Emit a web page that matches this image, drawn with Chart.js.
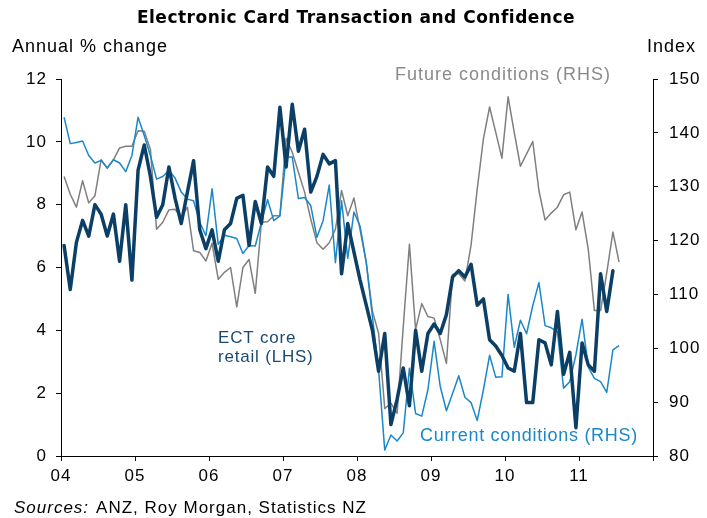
<!DOCTYPE html>
<html><head><meta charset="utf-8">
<script src="https://cdn.jsdelivr.net/npm/chart.js@4/dist/chart.umd.min.js"></script>
<style>html,body{margin:0;padding:0;background:#fff;}canvas{display:block}</style>
</head><body>
<canvas id="c" width="707" height="518"></canvas>
<script>
// Tick labels
const yearLabels = ['04','05','06','07','08','09','10','11',''];
const leftTicks = [0, 2, 4, 6, 8, 10, 12];
const rightTicks = [80, 90, 100, 110, 120, 130, 140, 150];

// Monthly categories, Jan 2004 .. Jul 2011
const categories = [];
for (let y = 2004; y <= 2011; y++) for (let m = 1; m <= 12; m++) {
  if (y === 2011 && m > 7) break;
  categories.push(y + '-' + String(m).padStart(2, '0'));
}

// ECT core retail, annual % change (LHS), Jan 2004 .. Jun 2011
const ectCoreRetail = [
  6.7, 5.3, 6.8, 7.5, 7.0, 8.0, 7.7, 7.0, 7.7, 6.2, 8.0, 5.6,
  9.1, 9.9, 8.9, 7.6, 8.0, 9.2, 8.2, 7.4, 8.4, 9.4, 7.2, 6.6,
  7.2, 6.2, 7.2, 7.4, 8.2, 8.3, 6.7, 8.1, 7.4, 9.2, 8.9, 11.1,
  9.2, 11.2, 9.7, 10.4, 8.4, 8.9, 9.6, 9.3, 9.4, 5.8, 7.4, 6.5,
  5.6, 4.8, 4.0, 2.7, 3.9, 1.0, 1.8, 2.8, 1.6, 4.0, 2.7, 3.9,
  4.2, 3.9, 4.5, 5.7, 5.9, 5.7, 6.1, 4.8, 5.0, 3.7, 3.5, 3.2,
  2.8, 2.7, 3.9, 1.7, 1.7, 3.7, 3.6, 2.9, 4.6, 2.6, 3.3, 0.9,
  3.6, 2.9, 2.7, 5.8, 4.6, 5.9
];

// Current conditions index (RHS)
const currentConditions = [
  142.9, 138.0, 138.2, 138.5, 135.8, 134.4, 134.9, 133.5, 135.0, 134.4, 132.8, 135.8,
  142.9, 139.5, 135.8, 131.4, 131.9, 133.0, 131.6, 129.0, 127.7, 127.4, 123.4, 120.9,
  129.6, 119.3, 121.0, 120.7, 120.4, 117.6, 119.1, 119.0, 123.4, 127.6, 123.7, 124.6,
  135.5, 135.5, 127.8, 128.0, 126.5, 120.6, 123.7, 130.3, 115.9, 127.4, 116.7, 125.3,
  122.7, 116.0, 105.9, 96.0, 81.1, 83.9, 82.8, 84.3, 96.3, 87.9, 87.4, 92.3,
  101.3, 92.9, 88.4, 91.6, 94.9, 90.9, 89.9, 86.6, 92.3, 98.7, 94.6, 94.7,
  110.0, 100.2, 105.2, 102.7, 107.9, 112.2, 104.2, 103.8, 103.1, 92.6, 93.8, 98.8,
  105.4, 96.5, 94.4, 93.8, 91.8, 99.7, 100.5
];

// Future conditions index (RHS)
const futureConditions = [
  131.9, 128.6, 126.2, 131.1, 127.0, 128.3, 135.0, 133.4, 135.0, 137.2, 137.5, 137.5,
  140.4, 140.3, 136.9, 122.1, 123.4, 125.7, 125.8, 124.3, 126.2, 118.1, 117.8, 116.2,
  119.5, 112.8, 114.1, 115.0, 107.7, 115.0, 116.5, 110.2, 123.4, 123.5, 124.6, 124.6,
  139.0, 136.4, 132.7, 129.0, 124.0, 119.6, 118.4, 119.6, 122.1, 129.3, 124.6, 127.9,
  122.0, 115.9, 106.9, 102.8, 88.8, 89.8, 87.9, 104.0, 119.3, 103.5, 108.3, 105.9,
  105.6, 101.6, 97.2, 113.7, 113.9, 112.5, 119.2, 129.6, 138.9, 144.8, 140.1, 135.3,
  146.7, 140.1, 133.8, 136.1, 138.4, 129.3, 123.8, 125.1, 126.2, 128.5, 129.0, 122.0,
  125.3, 118.4, 107.0, 107.0, 114.0, 121.6, 116.0
];

const toPoints = arr => arr.map((v, i) => ({ x: i + 0.5, y: v, m: categories[i] }));

const FONT = 'Liberation Sans';
const TITLE_FONT = 'DejaVu Sans';

const spacingPlugin = {
  id: 'spacing',
  beforeUpdate(chart) { chart.ctx.letterSpacing = '1px'; },
  beforeDraw(chart) { chart.ctx.letterSpacing = '1px'; }
};

const textPlugin = {
  id: 'texts',
  afterDraw(chart) {
    const ctx = chart.ctx;
    ctx.save();
    ctx.textBaseline = 'middle';
    // Title
    ctx.letterSpacing = '0.5px';
    ctx.fillStyle = '#000';
    ctx.font = 'bold 17px "' + TITLE_FONT + '"';
    ctx.textAlign = 'center';
    ctx.fillText('Electronic Card Transaction and Confidence', 356, 19);
    // Axis titles
    ctx.letterSpacing = '1px';
    ctx.font = '18px "' + FONT + '"';
    ctx.textAlign = 'left';
    ctx.fillText('Annual % change', 12, 47);
    ctx.textAlign = 'right';
    ctx.fillText('Index', 696, 47);
    // Series annotations
    ctx.font = '18px "' + FONT + '"';
    ctx.textAlign = 'left';
    ctx.fillStyle = '#8a8a8a';
    ctx.fillText('Future conditions (RHS)', 395, 75);
    ctx.letterSpacing = '0.7px';
    ctx.fillStyle = '#1a88c8';
    ctx.fillText('Current conditions (RHS)', 420, 436);
    ctx.font = '17px "' + FONT + '"';
    ctx.letterSpacing = '0.8px';
    ctx.fillStyle = '#1a4a70';
    ctx.fillText('ECT core', 218, 338);
    ctx.fillText('retail (LHS)', 218, 357);
    // Source
    ctx.letterSpacing = '1px';
    ctx.fillStyle = '#000';
    ctx.font = 'italic 17px "' + FONT + '"';
    ctx.fillText('Sources:', 14, 508);
    const w = ctx.measureText('Sources:').width;
    ctx.font = '17px "' + FONT + '"';
    ctx.fillText('ANZ, Roy Morgan, Statistics NZ', 14 + w + 7, 508);
    ctx.restore();
  }
};

const axisGrid = { display: true, drawOnChartArea: false, drawTicks: true, tickLength: 5, color: '#000', lineWidth: 1 };
const axisBorder = { display: true, color: '#000', width: 1 };

new Chart(document.getElementById('c'), {
  type: 'line',
  data: {
    datasets: [
      { label: 'ECT core retail (LHS)', data: toPoints(ectCoreRetail), yAxisID: 'y', borderColor: '#0b3f66', borderWidth: 3.5, borderJoinStyle: 'round', borderCapStyle: 'round', pointRadius: 0, tension: 0, order: 0 },
      { label: 'Current conditions (RHS)', data: toPoints(currentConditions), yAxisID: 'y1', borderColor: '#1a88c8', borderWidth: 1.5, borderJoinStyle: 'round', pointRadius: 0, tension: 0, order: 1 },
      { label: 'Future conditions (RHS)', data: toPoints(futureConditions), yAxisID: 'y1', borderColor: '#7f7f7f', borderWidth: 1.5, borderJoinStyle: 'round', pointRadius: 0, tension: 0, order: 2 }
    ]
  },
  options: {
    responsive: false,
    animation: false,
    devicePixelRatio: 1,
    layout: { padding: { top: 79, bottom: 34, left: 0, right: 0 } },
    plugins: { legend: { display: false }, tooltip: { enabled: false }, title: { display: false } },
    scales: {
      x: {
        type: 'linear', min: 0, max: 96, position: 'bottom',
        grid: axisGrid, border: axisBorder,
        afterBuildTicks: s => { s.ticks = yearLabels.map((l, k) => ({ value: k * 12 })); },
        afterFit: s => { s.height = 28; },
        ticks: { autoSkip: false, maxRotation: 0, padding: 5, color: '#000', font: { family: FONT, size: 17 },
          callback: v => yearLabels[Math.round(v / 12)] }
      },
      y: {
        position: 'left', min: 0, max: 12,
        grid: axisGrid, border: axisBorder,
        afterBuildTicks: s => { s.ticks = leftTicks.map(v => ({ value: v })); },
        afterFit: s => { s.width = 61; },
        ticks: { padding: 9, color: '#000', font: { family: FONT, size: 17 } }
      },
      y1: {
        position: 'right', min: 80, max: 150,
        grid: axisGrid, border: axisBorder,
        afterBuildTicks: s => { s.ticks = rightTicks.map(v => ({ value: v })); },
        afterFit: s => { s.width = 54; },
        ticks: { padding: 11, color: '#000', font: { family: FONT, size: 17 } }
      }
    }
  },
  plugins: [spacingPlugin, textPlugin]
});
</script>
</body></html>
